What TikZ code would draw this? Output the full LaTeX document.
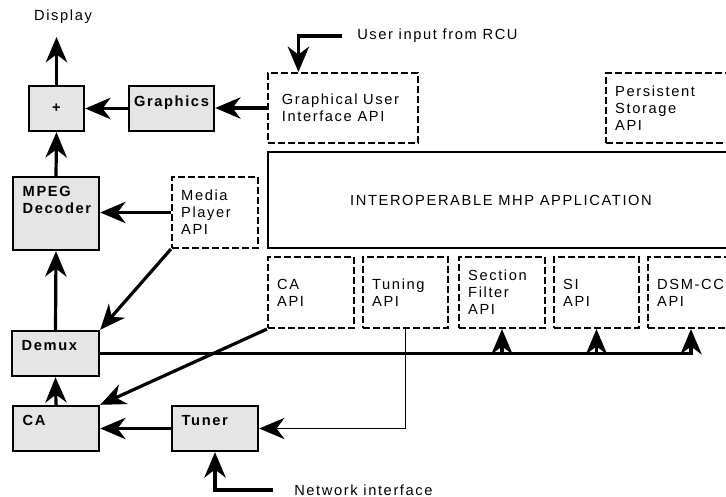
\documentclass[tikz,border=0pt]{standalone}
\usepackage{fontspec}
\setmainfont[LetterSpace=11]{Liberation Sans}
\usetikzlibrary{arrows.meta,fit,calc}
\newcommand\diagfont{\fontsize{11}{12.75}\selectfont}
\tikzset{
  hwbox/.style={draw,line width=1.8pt,fill=black!10,inner sep=0pt},
  apibox/.style={draw,line width=1.6pt,dash pattern=on 5pt off 2.5pt,inner sep=0pt},
  appbox/.style={draw,line width=1.8pt,inner sep=0pt},
  hwtxt/.style={font=\diagfont\bfseries,align=left,inner sep=0pt,anchor=north west,xshift=8pt,yshift=-8pt},
  hwmid/.style={font=\diagfont\bfseries,inner sep=0pt,anchor=center,yshift=4pt},
  apitxt/.style={align=left,inner sep=0pt,anchor=west,xshift=7.5pt},
  arr/.style={-{Stealth[length=19pt,width=16pt,inset=6pt]},line width=2.4pt},
}
\begin{document}
\begin{tikzpicture}[x=0.75pt,y=-0.75pt,font=\diagfont]
  \useasboundingbox (0,0) rectangle (726,497);
  \clip (0,0) rectangle (726,497);
  % receiver hardware
  \node[hwbox,fit={(29,86) (84,131)},label={[hwmid,yshift=-4pt]center:{+}}] (plus) {};
  \node[hwbox,fit={(129,86) (214,131)},label={[hwmid]center:Graphics}] (graphics) {};
  \node[hwbox,fit={(13,177) (99,250)},label={[hwtxt]north west:{MPEG\\Decoder}}] (mpeg) {};
  \node[hwbox,fit={(12,331) (99,376)},label={[hwtxt]north west:Demux}] (demux) {};
  \node[hwbox,fit={(13,406) (99,451)},label={[hwtxt]north west:CA}] (ca) {};
  \node[hwbox,fit={(172,406) (258,451)},label={[hwtxt]north west:Tuner}] (tuner) {};
  % APIs
  \node[apibox,fit={(268,73) (418,143)},label={[apitxt,xshift=3.5pt]west:{Graphical User\\Interface API}}] (gui) {};
  \node[apibox,fit={(606,73) (734,143)},label={[apitxt]west:{Persistent\\Storage\\API}}] (persist) {};
  \node[apibox,fit={(172,177) (258,248)},label={[apitxt]west:{Media\\Player\\API}}] (media) {};
  \node[appbox,fit={(268,152) (734,248)},label={center:INTEROPERABLE MHP APPLICATION}] (app) {};
  \node[apibox,fit={(268,257) (354,328)},label={[apitxt]west:{CA\\API}}] (caapi) {};
  \node[apibox,fit={(363,257) (448,328)},label={[apitxt]west:{Tuning\\API}}] (tuneapi) {};
  \node[apibox,fit={(459,257) (545,328)},label={[apitxt]west:{Section\\Filter\\API}}] (sfapi) {};
  \node[apibox,fit={(554,257) (639,328)},label={[apitxt]west:{SI\\API}}] (siapi) {};
  \node[apibox,fit={(648,257) (734,328)},label={[apitxt]west:{DSM-CC\\API}}] (dsmapi) {};
  % outside world
  \node[inner sep=0pt] (display) at (63,17) {Display};
  \coordinate (dispout) at (56.5,37);
  \node[inner sep=0pt,anchor=west] (rcu) at (357,36) {User input from RCU};
  \node[inner sep=0pt,anchor=west] (net) at (294,490) {Network interface};

  \draw[arr] (plus.north) -- (dispout);
  \draw[arr] (graphics) -- (plus);
  \draw[arr] (gui.west) -- (graphics.east |- gui.west);
  \draw[arr] ([xshift=-11pt]rcu.west) -| ($(gui.north west)!0.207!(gui.north east)$);
  \draw[arr] (mpeg.north) -- (plus.south);
  \draw[arr] (media.west) -- (mpeg.east |- media.west);
  \draw[arr] (demux.north) -- (mpeg.south);
  \draw[arr] (media.south west) -- (demux.north east);
  \draw[arr] (ca.north) -- (demux.south);
  \draw[arr] (caapi.south west) -- (ca.north east);
  \draw[arr] (tuner.west) -- (ca.east);
  \draw[arr,line width=1.4pt] (tuneapi.south) |- (tuner.east);
  \draw[arr] ([xshift=-16pt]net.west) -| (tuner.south);
  % section data bus
  \draw[arr] (demux.east) -| (dsmapi.south);
  \draw[arr] (sfapi.south |- demux.east) -- (sfapi.south);
  \draw[arr] (siapi.south |- demux.east) -- (siapi.south);
\end{tikzpicture}
\end{document}
